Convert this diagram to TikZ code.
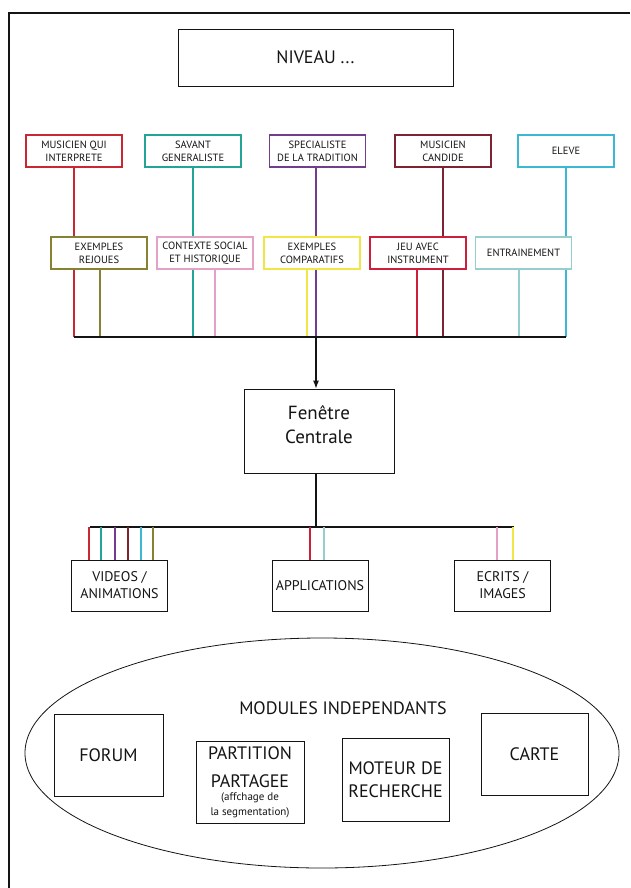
\documentclass[tikz,border=0pt]{standalone}
\usepackage{fontspec}
\setmainfont{PT Sans}
\usetikzlibrary{arrows.meta,shapes.geometric}

\definecolor{cRed}{RGB}{200,40,50}
\definecolor{cTeal}{RGB}{35,165,150}
\definecolor{cPurple}{RGB}{115,60,140}
\definecolor{cMaroon}{RGB}{125,35,50}
\definecolor{cCyan}{RGB}{60,185,210}
\definecolor{cOlive}{RGB}{135,130,50}
\definecolor{cPink}{RGB}{230,160,200}
\definecolor{cYellow}{RGB}{240,230,70}
\definecolor{cCrimson}{RGB}{205,30,60}
\definecolor{cPale}{RGB}{150,205,205}
\definecolor{cInk}{RGB}{20,20,20}

\begin{document}
\begin{tikzpicture}[x=1pt, y=-1pt, >={Latex[length=8pt,width=6pt]},
  box/.style={draw=cInk, line width=0.8pt, fill=white, inner sep=0pt, align=center, text=cInk},
  small/.style={box, line width=1.2pt, minimum width=96pt, minimum height=32pt, font=\fontsize{10.5}{12.7}\selectfont},
  media/.style={box, minimum width=96pt, minimum height=51pt, font=\fontsize{14}{17}\selectfont},
  module/.style={box, minimum width=108pt, minimum height=82pt, font=\fontsize{18}{23}\selectfont},
  wire/.style={line width=1.1pt},
  bus/.style={draw=cInk, line width=1.1pt}]
\useasboundingbox (0,0) rectangle (630,888);
% frame
\draw [cInk, line width=1.2pt] (8,13) -- (630,13) ;
\draw [cInk, line width=1.2pt] (9,13) -- (9,888) ;

\node[box, minimum width=275pt, minimum height=57pt, font=\fontsize{18}{22}\selectfont] (NIV) at (315.5,57.5) {NIVEAU ...};

% profils
\node[small, draw=cRed] (P1A) at (74,151) {MUSICIEN QUI\\INTERPRETE};
\node[small, draw=cTeal] (P1B) at (193,151) {SAVANT\\GENERALISTE};
\node[small, draw=cPurple] (P1C) at (317.5,151) {SPECIALISTE\\DE LA TRADITION};
\node[small, draw=cMaroon] (P1D) at (443,151) {MUSICIEN\\CANDIDE};
\node[small, draw=cCyan] (P1E) at (566,151) {ELEVE};
\coordinate (B1A) at (74,337);
\coordinate (B1B) at (193,337);
\coordinate (B1C) at (316,337);
\coordinate (B1D) at (443,337);
\coordinate (B1E) at (566,337);
\draw [wire, cRed] (P1A) -- (B1A) ;
\draw [wire, cTeal] (P1B) -- (B1B) ;
\draw [wire, cPurple] (P1C.south -| B1C) -- (B1C) ;
\draw [wire, cMaroon] (P1D) -- (B1D) ;
\draw [wire, cCyan] (P1E) -- (B1E) ;

% contenus
\node[small, draw=cOlive] (P2A) at (99,253) {EXEMPLES\\REJOUES};
\node[small, draw=cPink] (P2B) at (205,253) {CONTEXTE SOCIAL\\ET HISTORIQUE};
\node[small, draw=cYellow] (P2C) at (312,253) {EXEMPLES\\COMPARATIFS};
\node[small, draw=cCrimson] (P2D) at (418,253) {JEU AVEC\\INSTRUMENT};
\node[small, draw=cPale] (P2E) at (523.5,253) {ENTRAINEMENT};
\coordinate (B2A) at (100,337);
\coordinate (B2B) at (215,337);
\coordinate (B2C) at (307,337);
\coordinate (B2D) at (417,337);
\coordinate (B2E) at (519,337);
\draw [wire, cOlive] (P2A.south -| B2A) -- (B2A) ;
\draw [wire, cPink] (P2B.south -| B2B) -- (B2B) ;
\draw [wire, cYellow] (P2C.south -| B2C) -- (B2C) ;
\draw [wire, cCrimson] (P2D.south -| B2D) -- (B2D) ;
\draw [wire, cPale] (P2E.south -| B2E) -- (B2E) ;
\draw [bus] (B1A) -- (B1E) ;

% fenetre centrale
\node[box, minimum width=150pt, minimum height=84pt, font=\fontsize{19}{24}\selectfont] (FC) at (319,431) {Fenêtre\\Centrale\\[-12pt]};
\draw [bus, ->] (B1C) -- (B1C |- FC.north) ;

% supports
\node[media] (M1A) at (119.5,585.5) {VIDEOS /\\ANIMATIONS};
\node[media] (M1B) at (320,585.5) {APPLICATIONS};
\node[media] (M1C) at (502.5,585.5) {ECRITS /\\IMAGES};
\coordinate (C0) at (316,527);
\coordinate (C1) at (90,527);
\coordinate (C2) at (514,527);
\draw [bus] (FC.south -| C0) -- (C0) ;
\draw [bus] (C1) -- (C2) ;
\foreach \xx/\cc in {89/cRed, 101/cTeal, 115/cPurple, 128/cMaroon, 141/cCyan, 153/cOlive}
  \draw [wire, \cc] (\xx,527) -- (\xx,560) ;
\foreach \xx/\cc in {310/cCrimson, 324/cPale, 497/cPink, 513/cYellow}
  \draw [wire, \cc] (\xx,527) -- (\xx,560) ;

% modules
\node[ellipse, draw=cInk, line width=0.8pt, minimum width=594pt, minimum height=230pt] (MOD) at (322,753) {};
\node[text=cInk, font=\fontsize{18}{22}\selectfont] (TIT) at (343,708) {MODULES INDEPENDANTS};
\node[module, minimum width=109pt] (F1A) at (108.5,755) {FORUM};
\node[module] (F1B) at (250,782) {PARTITION\\[5pt]PARTAGEE\\[-10pt]{\fontsize{11}{13}\selectfont (affchage de}\\[-8pt]{\fontsize{11}{13}\selectfont la segmentation)}};
\node[module, minimum width=107pt, minimum height=83pt] (F1C) at (395.5,779.5) {MOTEUR DE\\RECHERCHE};
\node[module, minimum width=107pt] (F1D) at (534.5,754) {CARTE};
\end{tikzpicture}
\end{document}
